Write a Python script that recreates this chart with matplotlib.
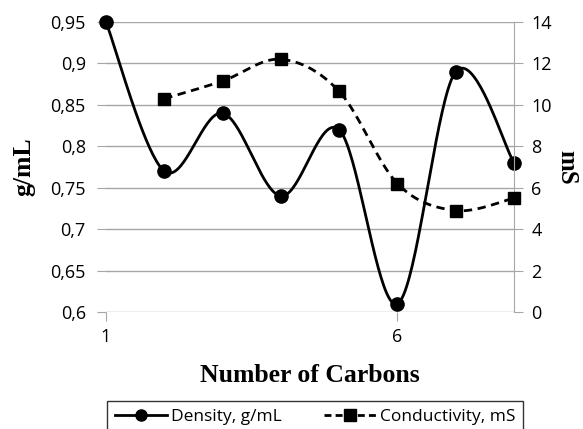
import numpy as np
import matplotlib
matplotlib.use("Agg")
import matplotlib.pyplot as plt
from matplotlib.lines import Line2D

# data
carbons = [1, 2, 3, 4, 5, 6, 7, 8]
density = [0.95, 0.77, 0.84, 0.74, 0.82, 0.61, 0.89, 0.78]
cond_carbons = [2, 3, 4, 5, 6, 7, 8]
conductivity = [10.3, 11.15, 12.2, 10.65, 6.2, 4.9, 5.5]

x_ticks = [1, 6]
left_ticks = [0.6, 0.65, 0.7, 0.75, 0.8, 0.85, 0.9, 0.95]
right_ticks = [0, 2, 4, 6, 8, 10, 12, 14]


def smooth(xs, ys, n=40):
    # Excel style smoothed line: bezier segments, control points from neighbours
    xs = np.asarray(xs, float)
    ys = np.asarray(ys, float)
    px = np.concatenate([[xs[0]], xs, [xs[-1]]])
    py = np.concatenate([[ys[0]], ys, [ys[-1]]])
    outx, outy = [], []
    t = np.linspace(0, 1, n)
    for i in range(1, len(px) - 2):
        p0 = np.array([px[i], py[i]])
        p3 = np.array([px[i + 1], py[i + 1]])
        c1 = p0 + (np.array([px[i + 1], py[i + 1]]) - np.array([px[i - 1], py[i - 1]])) / 6
        c2 = p3 - (np.array([px[i + 2], py[i + 2]]) - np.array([px[i], py[i]])) / 6
        b = ((1 - t) ** 3)[:, None] * p0 + (3 * (1 - t) ** 2 * t)[:, None] * c1 \
            + (3 * (1 - t) * t ** 2)[:, None] * c2 + (t ** 3)[:, None] * p3
        outx.extend(b[:, 0])
        outy.extend(b[:, 1])
    return outx, outy


tick_font = "Open Sans"
label_font = "Liberation Serif"
grid_col = "#a6a6a6"

fig = plt.figure(figsize=(5.83, 4.29), dpi=100)
ax = fig.add_axes([106 / 583, 1 - 312 / 429, (514 - 106) / 583, (312 - 22) / 429])
ax2 = ax.twinx()

ax.set_xlim(1, 8.0)
ax.set_ylim(0.6, 0.95)
ax2.set_ylim(0, 14)

ax.set_yticks(left_ticks)
ax.set_yticklabels([("%g" % v).replace(".", ",") for v in left_ticks],
                   fontfamily=tick_font, fontsize=13)
ax2.set_yticks(right_ticks)
ax2.set_yticklabels([str(v) for v in right_ticks], fontfamily=tick_font, fontsize=13)
ax.set_xticks(x_ticks)
ax.set_xticklabels([str(v) for v in x_ticks], fontfamily=tick_font, fontsize=13)

ax.grid(axis="y", color=grid_col, lw=1)
ax.set_axisbelow(True)
for a in (ax, ax2):
    for s in a.spines.values():
        s.set_visible(False)
ax2.spines["right"].set_visible(True)
ax2.spines["right"].set_color(grid_col)
ax.tick_params(axis="y", length=6.5, color=grid_col, pad=8)
ax.tick_params(axis="x", length=6.5, color=grid_col, pad=5)
ax2.tick_params(axis="y", length=6.5, color=grid_col, pad=6)

dx, dy = smooth(carbons, density)
ax.plot(dx, dy, color="black", lw=2, zorder=3, clip_on=False)
ax.plot(carbons, density, ls="none", marker="o", ms=9.5, color="black", zorder=4,
        clip_on=False)

cx, cy = smooth(cond_carbons, conductivity)
ax2.plot(cx, cy, color="black", lw=2, ls=(0, (3, 2)), zorder=3, clip_on=False)
ax2.plot(cond_carbons, conductivity, ls="none", marker="s", ms=9, color="black",
         zorder=4, clip_on=False)

ax.set_ylabel("g/mL", fontfamily=label_font, fontweight="bold", fontsize=18.5, labelpad=11)
ax2.set_ylabel("mS", fontfamily=label_font, fontweight="bold", fontsize=18,
               rotation=-90, labelpad=19)
ax.set_xlabel("Number of Carbons", fontfamily=label_font, fontweight="bold",
              fontsize=18.5, labelpad=13)

handles = [
    Line2D([], [], color="black", lw=2, marker="o", ms=8),
    Line2D([], [], color="black", lw=2, ls=(0, (2.5, 1.5)), marker="s", ms=8),
]
leg = fig.legend(handles, ["Density, g/mL", "Conductivity, mS"], ncol=2,
                 loc="upper left", bbox_to_anchor=(107 / 583, 1 - 401 / 429),
                 borderaxespad=0,
                 prop={"family": tick_font, "size": 12.5}, frameon=True,
                 fancybox=False, edgecolor="black", handlelength=3.0,
                 columnspacing=2.4, borderpad=0.45, handletextpad=0.25)
leg.get_frame().set_linewidth(1)

fig.savefig("out.png", dpi=100)
